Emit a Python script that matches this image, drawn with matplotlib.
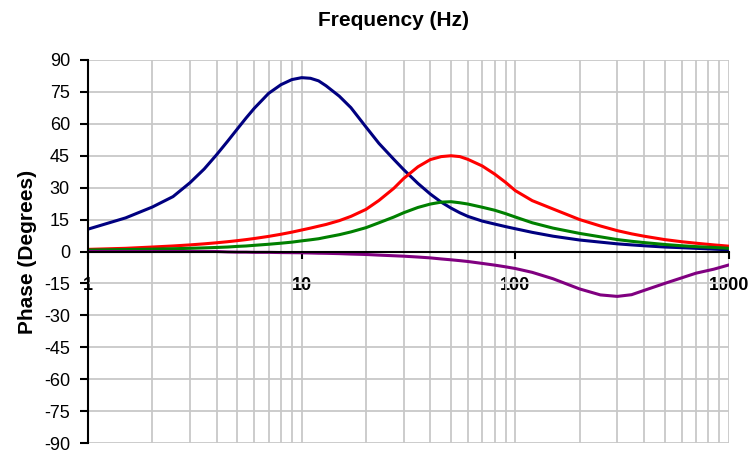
import matplotlib
matplotlib.use('Agg')
import matplotlib.pyplot as plt
from matplotlib.ticker import LogLocator, NullFormatter

plt.rcParams['font.family'] = ['Liberation Sans', 'DejaVu Sans']
plt.rcParams['axes.unicode_minus'] = False

# frequency points (Hz)
freq = [1, 1.5, 2, 2.5, 3, 3.5, 4, 4.5, 5, 5.5, 6, 7, 8, 9, 10, 11, 12, 13, 15, 17,
        20, 23, 27, 30, 35, 40, 45, 50, 55, 60, 70, 80, 90, 100, 120, 150, 200, 250,
        300, 350, 400, 500, 600, 700, 850, 1000]

# phase values (degrees) for each trace
blue = [10.5, 15.8, 20.9, 25.8, 32.3, 38.8, 45.5, 51.8, 57.6, 62.8, 67.3, 74.3, 78.4,
        80.8, 81.7, 81.4, 80.2, 77.9, 73.0, 67.6, 58.5, 50.8, 43.3, 38.5, 32.0, 27.0,
        23.2, 20.4, 18.2, 16.5, 14.3, 12.9, 11.7, 10.7, 9.0, 7.2, 5.4, 4.4, 3.6, 3.1,
        2.7, 2.1, 1.8, 1.5, 1.1, 0.8]
red = [1, 1.5, 2.1, 2.6, 3.1, 3.6, 4.1, 4.6, 5.1, 5.6, 6.1, 7.1, 8.1, 9.1, 10.1, 11,
       11.9, 12.7, 14.5, 16.5, 19.8, 24, 29.7, 34.3, 39.8, 43.2, 44.6, 45, 44.6, 43.3,
       40.2, 36.4, 32.5, 28.6, 23.9, 20.0, 15.0, 12.0, 9.8, 8.3, 7.2, 5.6, 4.6, 3.9,
       3.1, 2.5]
green = [0.7, 0.9, 1.1, 1.3, 1.5, 1.7, 1.9, 2.1, 2.4, 2.6, 2.9, 3.4, 3.9, 4.4, 5, 5.5,
         6, 6.7, 7.9, 9.2, 11.2, 13.5, 16.2, 18.2, 20.7, 22.3, 23.2, 23.4, 22.9, 22.3,
         20.8, 19.4, 17.8, 16.2, 13.5, 11, 8.5, 6.9, 5.6, 4.8, 4.2, 3.3, 2.7, 2.3, 1.9,
         1.5]
purple = [0, 0, 0, 0, 0, 0, 0, -0.2, -0.3, -0.3, -0.4, -0.4, -0.5, -0.55, -0.6, -0.7,
          -0.8, -0.85, -1.0, -1.2, -1.4, -1.7, -2.0, -2.2, -2.6, -3.0, -3.5, -3.9, -4.3,
          -4.7, -5.6, -6.4, -7.2, -8.0, -9.8, -12.8, -17.6, -20.4, -21.1, -20.3, -18.3,
          -15, -12.4, -10.2, -8.3, -6.3]

yticks = list(range(-90, 91, 15))
xticks = [1, 10, 100, 1000]
xlabels = ['1', '10', '100', '1000']

fig = plt.figure(figsize=(7.54, 4.53), dpi=100)
ax = fig.add_axes([88/754, 1-443/453, (729-88)/754, (443-60)/453])

ax.plot(freq, blue, color='#000080', lw=2.2)
ax.plot(freq, red, color='#FF0000', lw=2.2)
ax.plot(freq, green, color='#008000', lw=2.2)
ax.plot(freq, purple, color='#800080', lw=2.2)

ax.set_xscale('log')
ax.set_xlim(1, 1000)
ax.set_ylim(-90, 90)
ax.set_yticks(yticks)
ax.xaxis.set_minor_locator(LogLocator(base=10, subs=range(2, 10)))
ax.xaxis.set_minor_formatter(NullFormatter())

ax.grid(True, which='both', color='#c8c8c8', lw=1.3)
ax.set_axisbelow(True)

for s in ['top', 'right']:
    ax.spines[s].set_visible(False)
ax.spines['bottom'].set_position(('data', 0))
ax.spines['bottom'].set_linewidth(1.5)
ax.spines['left'].set_linewidth(1.5)

ax.tick_params(axis='x', which='major', direction='out', length=5, width=1.5, pad=13,
               labelsize=13)
ax.tick_params(axis='x', which='minor', length=0)
ax.tick_params(axis='y', direction='out', length=6, width=1.5, pad=7, labelsize=13)

# bold frequency labels under the zero line
ax.set_xticks(xticks, xlabels, fontweight='bold', fontsize=13)

ax.set_ylabel('Phase (Degrees)', fontweight='bold', fontsize=15, labelpad=5)
fig.text(394/754, 1-20/453, 'Frequency (Hz)', ha='center', va='center',
         fontweight='bold', fontsize=15)

fig.savefig('out.png', dpi=100)
